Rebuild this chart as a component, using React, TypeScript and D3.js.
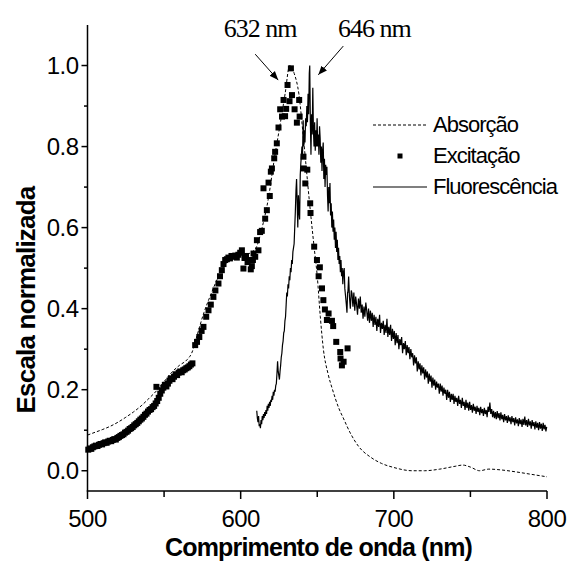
import React from "react";
import * as d3 from "d3";

// ---------- DATA ----------
const xTicksMajor = [500, 600, 700, 800];
const xTicksMinor = [550, 650, 750];
const yTicksMajor = [0.0, 0.2, 0.4, 0.6, 0.8, 1.0];
const yTicksMinor = [0.1, 0.3, 0.5, 0.7, 0.9];

const legendLabels = ["Absorção", "Excitação", "Fluorescência"];
const xTitle = "Comprimento de onda (nm)";
const yTitle = "Escala normalizada";

// Absorption spectrum (nm, normalized)
const absorcao: [number, number][] = [
  [500, 0.088], [505, 0.095], [510, 0.102], [515, 0.11], [520, 0.12], [525, 0.132],
  [530, 0.145], [535, 0.16], [540, 0.178], [545, 0.197], [550, 0.22], [555, 0.243],
  [560, 0.26], [565, 0.274], [568, 0.29], [572, 0.34], [576, 0.39], [580, 0.43],
  [585, 0.475], [590, 0.51], [595, 0.525], [600, 0.53], [605, 0.535], [610, 0.55],
  [614, 0.6], [618, 0.67], [622, 0.77], [626, 0.86], [629, 0.93], [632, 1.0],
  [635, 0.98], [638, 0.93], [641, 0.82], [645, 0.66], [648, 0.55], [650, 0.48],
  [652, 0.38], [654, 0.3], [657, 0.24], [660, 0.2], [664, 0.155], [667, 0.13],
  [672, 0.09], [677, 0.06], [685, 0.033], [692, 0.018], [700, 0.008], [712, 0.0],
  [720, 0.0], [730, 0.004], [740, 0.011], [745, 0.014], [750, 0.009], [756, 0.0],
  [762, 0.004], [770, 0.002], [780, -0.003], [790, -0.009], [800, -0.015],
];

// Excitation spectrum points (nm, normalized)
const excitacao: [number, number][] = [
  [500.5, 0.052], [501.5, 0.055], [502.5, 0.054], [503.5, 0.058], [504.5, 0.06],
  [505.5, 0.062], [506.5, 0.061], [507.5, 0.064], [508.5, 0.066], [509.5, 0.065],
  [510.5, 0.068], [511.5, 0.07], [512.5, 0.069], [513.5, 0.072], [514.5, 0.074],
  [515.5, 0.073], [516.5, 0.076], [517.5, 0.078], [518.5, 0.077], [519.5, 0.081],
  [520.5, 0.083], [521.5, 0.086], [522.5, 0.088], [523.5, 0.09], [524.5, 0.094],
  [525.5, 0.096], [526.5, 0.099], [527.5, 0.103], [528.5, 0.105], [529.5, 0.108],
  [530.5, 0.112], [531.5, 0.115], [532.5, 0.118], [533.5, 0.122], [534.5, 0.126],
  [535.5, 0.129], [536.5, 0.133], [537.5, 0.138], [538.5, 0.141], [539.5, 0.146],
  [540.5, 0.15], [541.5, 0.152], [542.5, 0.157], [543.5, 0.16], [544.5, 0.166],
  [545.0, 0.207], [545.5, 0.172], [546.5, 0.18], [547.5, 0.19], [548.5, 0.198],
  [549.5, 0.205], [550.5, 0.212], [551.5, 0.208], [552.5, 0.215], [553.5, 0.222],
  [554.5, 0.228], [555.5, 0.226], [556.5, 0.232], [557.5, 0.238], [558.5, 0.236],
  [559.5, 0.242], [560.5, 0.245], [561.5, 0.243], [562.5, 0.248], [563.5, 0.25],
  [564.5, 0.253], [565.5, 0.255], [566.5, 0.258], [567.5, 0.262], [568.5, 0.265],
  [570.3, 0.31], [571.5, 0.318], [573, 0.33], [574.5, 0.345], [575.7, 0.355],
  [577.5, 0.38], [579, 0.396], [580.5, 0.41], [582.2, 0.429], [583.5, 0.445],
  [585.5, 0.462], [586.5, 0.48], [587.7, 0.495], [588.8, 0.51], [589.9, 0.52],
  [591, 0.522], [592, 0.526], [593, 0.524], [594, 0.53], [595.3, 0.528],
  [596.5, 0.531], [597.5, 0.526], [598.5, 0.533], [599.7, 0.538], [600.8, 0.544],
  [601.8, 0.499], [602.5, 0.525], [603.5, 0.53], [604.5, 0.515], [605.5, 0.52],
  [606.6, 0.497], [607.3, 0.505], [608, 0.52], [608.4, 0.536], [609.5, 0.528],
  [610.6, 0.569], [611.6, 0.544], [612.7, 0.589], [613.8, 0.592], [614.9, 0.697],
  [616, 0.622], [617.1, 0.643], [618.2, 0.711], [619, 0.678], [619.7, 0.738],
  [620.4, 0.746], [621.9, 0.771], [622.5, 0.787], [623.6, 0.808], [624.7, 0.847],
  [625.8, 0.892], [627, 0.874], [628, 0.915], [629, 0.875], [629.7, 0.893],
  [630.6, 0.952], [631.9, 0.912], [632.8, 0.993], [633.5, 0.927], [635.2, 0.892],
  [636.7, 0.859], [638.2, 0.915], [638.5, 0.874], [641, 0.775], [641.2, 0.746],
  [642.2, 0.709], [643.5, 0.743], [645.4, 0.66], [645.6, 0.636], [648, 0.553],
  [649.8, 0.52], [650.9, 0.48], [651.7, 0.502], [653.1, 0.45], [654, 0.421],
  [655, 0.398], [656.3, 0.372], [657.4, 0.388], [659.6, 0.37], [660.4, 0.357],
  [662.4, 0.318], [665, 0.293], [665.2, 0.277], [666.1, 0.26], [667.2, 0.269],
  [669.8, 0.302],
];

// Fluorescence spectrum (nm, normalized)
const fluorescencia: [number, number][] = [
  [610.5, 0.148], [610.9, 0.13], [611.3, 0.12], [611.7, 0.135], [612.1, 0.11], [612.5, 0.115],
  [612.9, 0.105], [613.3, 0.125], [613.7, 0.115], [614.1, 0.135], [614.5, 0.125], [614.9, 0.14],
  [615.3, 0.13], [615.7, 0.145], [616.1, 0.135], [616.5, 0.15], [616.9, 0.14], [617.3, 0.16],
  [617.7, 0.148], [618.1, 0.165], [618.5, 0.155], [618.9, 0.17], [619.3, 0.16], [619.7, 0.175],
  [620.1, 0.17], [620.5, 0.185], [620.9, 0.175], [621.3, 0.195], [621.7, 0.185], [622.1, 0.2],
  [622.5, 0.195], [622.9, 0.21], [623.3, 0.215], [623.7, 0.24], [624.1, 0.27], [624.5, 0.245],
  [624.9, 0.235], [625.3, 0.225], [625.7, 0.245], [626.1, 0.26], [626.5, 0.28], [626.9, 0.29],
  [627.3, 0.31], [627.7, 0.32], [628.1, 0.34], [628.5, 0.345], [628.9, 0.37], [629.3, 0.38],
  [629.7, 0.41], [630.1, 0.44], [630.5, 0.43], [630.9, 0.46], [631.3, 0.45], [631.7, 0.48],
  [632.1, 0.47], [632.5, 0.5], [632.9, 0.49], [633.3, 0.52], [633.7, 0.51], [634.1, 0.54],
  [634.5, 0.55], [634.9, 0.56], [635.3, 0.6], [635.7, 0.64], [636.1, 0.69], [636.5, 0.72],
  [636.9, 0.66], [637.3, 0.6], [637.7, 0.68], [638.1, 0.64], [638.5, 0.62], [638.9, 0.73],
  [639.3, 0.76], [639.7, 0.78], [640, 0.8], [640.4, 0.78], [640.8, 0.865], [641.2, 0.8],
  [641.6, 0.84], [642, 0.81], [642.4, 0.87], [642.8, 0.85], [643.2, 0.9], [643.6, 0.86],
  [644, 0.93], [644.4, 0.88], [644.8, 0.98], [645.1, 1.0], [645.5, 0.86], [645.9, 0.78],
  [646.3, 0.88], [646.7, 0.83], [647.1, 0.945], [647.5, 0.84], [647.9, 0.8], [648.3, 0.86],
  [648.7, 0.79], [649.1, 0.84], [649.5, 0.8], [649.9, 0.87], [650.3, 0.8], [650.7, 0.83],
  [651.1, 0.78], [651.5, 0.85], [651.9, 0.82], [652.3, 0.76], [652.7, 0.8], [653.1, 0.74],
  [653.5, 0.79], [653.9, 0.81], [654.3, 0.72], [654.7, 0.77], [655.1, 0.7], [655.5, 0.755],
  [655.9, 0.73], [656.3, 0.75], [656.7, 0.68], [657.1, 0.64], [657.5, 0.7], [657.9, 0.66],
  [658.3, 0.71], [658.7, 0.63], [659.1, 0.66], [659.5, 0.6], [659.9, 0.64], [660.3, 0.59],
  [660.7, 0.62], [661.1, 0.57], [661.5, 0.6], [661.9, 0.55], [662.3, 0.59], [662.7, 0.54],
  [663.1, 0.57], [663.5, 0.52], [663.9, 0.55], [664.3, 0.51], [664.7, 0.53], [665.1, 0.49],
  [665.5, 0.52], [665.9, 0.48], [666.3, 0.5], [666.7, 0.46], [667.1, 0.49], [667.6, 0.5],
  [668, 0.45], [668.5, 0.43], [669, 0.41], [669.4, 0.39], [669.8, 0.44],
  [670.0, 0.44], [670.5, 0.479], [671.0, 0.43], [671.6, 0.4], [672.2, 0.445], [672.7, 0.437],
  [673.3, 0.405], [673.9, 0.44], [674.5, 0.395], [675.1, 0.43], [675.7, 0.41], [676.3, 0.385],
  [676.9, 0.425], [677.5, 0.4], [678.1, 0.43], [678.7, 0.39], [679.3, 0.41], [679.9, 0.375],
  [680.5, 0.405], [681.1, 0.38], [681.7, 0.415], [682.3, 0.395], [682.9, 0.37], [683.5, 0.4],
  [684.1, 0.365], [684.7, 0.395], [685.3, 0.37], [685.9, 0.39], [686.5, 0.355], [687.1, 0.385],
  [687.7, 0.36], [688.3, 0.38], [688.9, 0.345], [689.5, 0.375], [690.1, 0.355], [690.7, 0.385],
  [691.3, 0.34], [691.9, 0.365], [692.5, 0.35], [693.1, 0.37], [693.7, 0.335], [694.3, 0.36],
  [694.9, 0.34], [695.5, 0.375], [696.1, 0.33], [696.7, 0.355], [697.3, 0.335], [697.9, 0.36],
  [698.5, 0.32], [699.1, 0.35], [699.7, 0.325], [700.3, 0.345], [700.9, 0.31], [701.5, 0.34],
  [702.1, 0.315], [702.7, 0.335], [703.3, 0.3], [703.9, 0.325], [704.5, 0.31], [705.1, 0.33],
  [705.7, 0.29], [706.3, 0.315], [706.9, 0.3], [707.5, 0.32], [708.1, 0.285], [708.7, 0.31],
  [709.3, 0.29], [709.9, 0.305], [710.5, 0.275], [711.1, 0.3], [711.7, 0.28], [712.3, 0.29],
  [712.9, 0.26], [713.5, 0.285], [714.1, 0.265], [714.7, 0.28], [715.3, 0.245], [715.9, 0.27],
  [716.5, 0.25], [717.1, 0.265], [717.7, 0.235], [718.3, 0.26], [718.9, 0.24], [719.5, 0.255],
  [720.1, 0.225], [720.7, 0.25], [721.3, 0.23], [721.9, 0.245], [722.5, 0.215], [723.1, 0.24],
  [723.7, 0.22], [724.3, 0.235], [724.9, 0.205], [725.5, 0.23], [726.1, 0.21], [726.7, 0.225],
  [727.3, 0.2], [727.9, 0.22], [728.5, 0.205], [729.1, 0.215], [729.7, 0.19], [730.3, 0.215],
  [730.9, 0.195], [731.5, 0.21], [732.1, 0.185], [732.7, 0.205], [733.3, 0.19], [733.9, 0.2],
  [734.5, 0.175], [735.1, 0.2], [735.7, 0.18], [736.3, 0.195], [736.9, 0.17], [737.5, 0.19],
  [738.1, 0.175], [738.7, 0.19], [739.3, 0.165], [739.9, 0.185], [740.5, 0.17], [741.1, 0.18],
  [741.7, 0.16], [742.3, 0.185], [742.9, 0.165], [743.5, 0.175], [744.1, 0.155], [744.7, 0.18],
  [745.3, 0.16], [745.9, 0.17], [746.5, 0.15], [747.1, 0.175], [747.7, 0.155], [748.3, 0.168],
  [748.9, 0.148], [749.5, 0.17], [750.1, 0.15], [750.7, 0.162], [751.3, 0.143], [751.9, 0.165],
  [752.5, 0.148], [753.1, 0.158], [753.7, 0.14], [754.3, 0.16], [754.9, 0.145], [755.5, 0.155],
  [756.1, 0.137], [756.7, 0.158], [757.3, 0.142], [757.9, 0.152], [758.5, 0.135], [759.1, 0.155],
  [759.7, 0.14], [760.3, 0.15], [760.9, 0.132], [761.5, 0.158], [762.1, 0.145], [762.7, 0.168],
  [763.3, 0.14], [763.9, 0.152], [764.5, 0.132], [765.1, 0.148], [765.7, 0.13], [766.3, 0.145],
  [766.9, 0.127], [767.5, 0.147], [768.1, 0.13], [768.7, 0.142], [769.3, 0.124], [769.9, 0.144],
  [770.5, 0.127], [771.1, 0.138], [771.7, 0.12], [772.3, 0.14], [772.9, 0.124], [773.5, 0.135],
  [774.1, 0.118], [774.7, 0.137], [775.3, 0.122], [775.9, 0.132], [776.5, 0.115], [777.1, 0.135],
  [777.7, 0.12], [778.3, 0.13], [778.9, 0.112], [779.5, 0.132], [780.1, 0.117], [780.7, 0.127],
  [781.3, 0.11], [781.9, 0.13], [782.5, 0.115], [783.1, 0.126], [783.7, 0.108], [784.3, 0.128],
  [784.9, 0.113], [785.5, 0.134], [786.1, 0.112], [786.7, 0.125], [787.3, 0.108], [787.9, 0.128],
  [788.5, 0.112], [789.1, 0.122], [789.7, 0.104], [790.3, 0.125], [790.9, 0.11], [791.5, 0.12],
  [792.1, 0.102], [792.7, 0.122], [793.3, 0.106], [793.9, 0.118], [794.5, 0.1], [795.1, 0.12],
  [795.7, 0.104], [796.3, 0.116], [796.9, 0.098], [797.5, 0.118], [798.1, 0.102], [798.7, 0.113],
  [799.3, 0.097], [799.8, 0.108],
];

// Peak annotations: label, text anchor (nm, value), arrow tail, arrow tip
const annotations = [
  { label: "632 nm", text: [612.7, 1.07], from: [609.5, 1.028], to: [624.5, 0.964] },
  { label: "646 nm", text: [687.3, 1.07], from: [667, 1.048], to: [650.7, 0.977] },
];

// ---------- CHART ----------
const W = 569;
const H = 563;
const M = { left: 87.5, right: 22, top: 25, bottom: 72 };

export default function App() {
  const x = d3.scaleLinear().domain([500, 800]).range([M.left, W - M.right]);
  const y = d3.scaleLinear().domain([-0.05, 1.1]).range([H - M.bottom, M.top]);
  const line = d3
    .line<[number, number]>()
    .x((d) => x(d[0]))
    .y((d) => y(d[1]));
  const absLine = d3
    .line<[number, number]>()
    .x((d) => x(d[0]))
    .y((d) => y(d[1]))
    .curve(d3.curveMonotoneX);

  const x0 = x.range()[0];
  const x1 = x.range()[1];
  const yb = y.range()[0];
  const yt = y.range()[1];
  const sans = "'Liberation Sans', Arial, sans-serif";
  const serif = "'Liberation Serif', 'Times New Roman', serif";
  const sq = 6;

  const legX = 400;
  const legY = [125, 156, 187];

  return (
    <svg
      width={W}
      height={H}
      style={{ position: "absolute", left: 0, top: 0, background: "#fff" }}
      fontFamily={sans}
    >
      <defs>
        <marker
          id="arr"
          viewBox="0 0 10 10"
          refX="10"
          refY="5"
          markerWidth="9"
          markerHeight="9"
          markerUnits="userSpaceOnUse"
          orient="auto"
        >
          <path d="M0,1 L10,5 L0,9 Z" fill="#000" />
        </marker>
      </defs>

      {/* data */}
      <path
        d={absLine(absorcao) || ""}
        fill="none"
        stroke="#000"
        strokeWidth={1}
        strokeDasharray="3,2"
      />
      <path d={line(fluorescencia) || ""} fill="none" stroke="#000" strokeWidth={1.2} strokeLinejoin="miter" />
      {excitacao.map((d, i) => (
        <rect
          key={i}
          x={x(d[0]) - sq / 2}
          y={y(d[1]) - sq / 2}
          width={sq}
          height={sq}
          fill="#000"
        />
      ))}

      {/* axes */}
      <line x1={x0} x2={x0} y1={yt} y2={yb} stroke="#000" strokeWidth={1.5} />
      <line x1={x0 - 0.75} x2={x1} y1={yb} y2={yb} stroke="#000" strokeWidth={1.5} />
      {xTicksMajor.map((t) => (
        <g key={"xm" + t}>
          <line x1={x(t)} x2={x(t)} y1={yb} y2={yb + 8} stroke="#000" strokeWidth={1.5} />
          <text x={x(t)} y={527} textAnchor="middle" fontSize={24} letterSpacing={-0.5}>
            {t}
          </text>
        </g>
      ))}
      {xTicksMinor.map((t) => (
        <line key={"xn" + t} x1={x(t)} x2={x(t)} y1={yb} y2={yb + 6} stroke="#000" strokeWidth={1.5} />
      ))}
      {yTicksMajor.map((t) => (
        <g key={"ym" + t}>
          <line x1={x0} x2={x0 - 6} y1={y(t)} y2={y(t)} stroke="#000" strokeWidth={1.5} />
          <text x={x0 - 9} y={y(t) + 8.5} textAnchor="end" fontSize={24} letterSpacing={-0.5}>
            {t.toFixed(1)}
          </text>
        </g>
      ))}
      {yTicksMinor.map((t) => (
        <line key={"yn" + t} x1={x0} x2={x0 - 3.5} y1={y(t)} y2={y(t)} stroke="#000" strokeWidth={1.5} />
      ))}

      {/* axis titles */}
      <text
        x={318.5}
        y={556}
        textAnchor="middle"
        fontSize={25}
        fontWeight="bold"
        letterSpacing={-0.8}
      >
        {xTitle}
      </text>
      <text
        transform={`translate(35,300) rotate(-90)`}
        textAnchor="middle"
        fontSize={26}
        fontWeight="bold"
        letterSpacing={-0.8}
      >
        {yTitle}
      </text>

      {/* annotations */}
      {annotations.map((a) => (
        <g key={a.label}>
          <text
            x={x(a.text[0])}
            y={y(a.text[1])}
            textAnchor="middle"
            fontFamily={serif}
            fontSize={26}
            letterSpacing={-1}
          >
            {a.label}
          </text>
          <line
            x1={x(a.from[0])}
            y1={y(a.from[1])}
            x2={x(a.to[0])}
            y2={y(a.to[1])}
            stroke="#000"
            strokeWidth={1}
            markerEnd="url(#arr)"
          />
        </g>
      ))}

      {/* legend */}
      <line x1={legX - 27} x2={legX + 27} y1={legY[0]} y2={legY[0]} stroke="#000" strokeWidth={1} strokeDasharray="3,2" />
      <rect x={legX - 2.5} y={legY[1] - 2.5} width={5} height={5} fill="#000" />
      <line x1={legX - 27} x2={legX + 27} y1={legY[2]} y2={legY[2]} stroke="#000" strokeWidth={1.2} />
      {legendLabels.map((l, i) => (
        <text key={l} x={433} y={legY[i] + 7} fontSize={22} letterSpacing={-1}>
          {l}
        </text>
      ))}
    </svg>
  );
}
